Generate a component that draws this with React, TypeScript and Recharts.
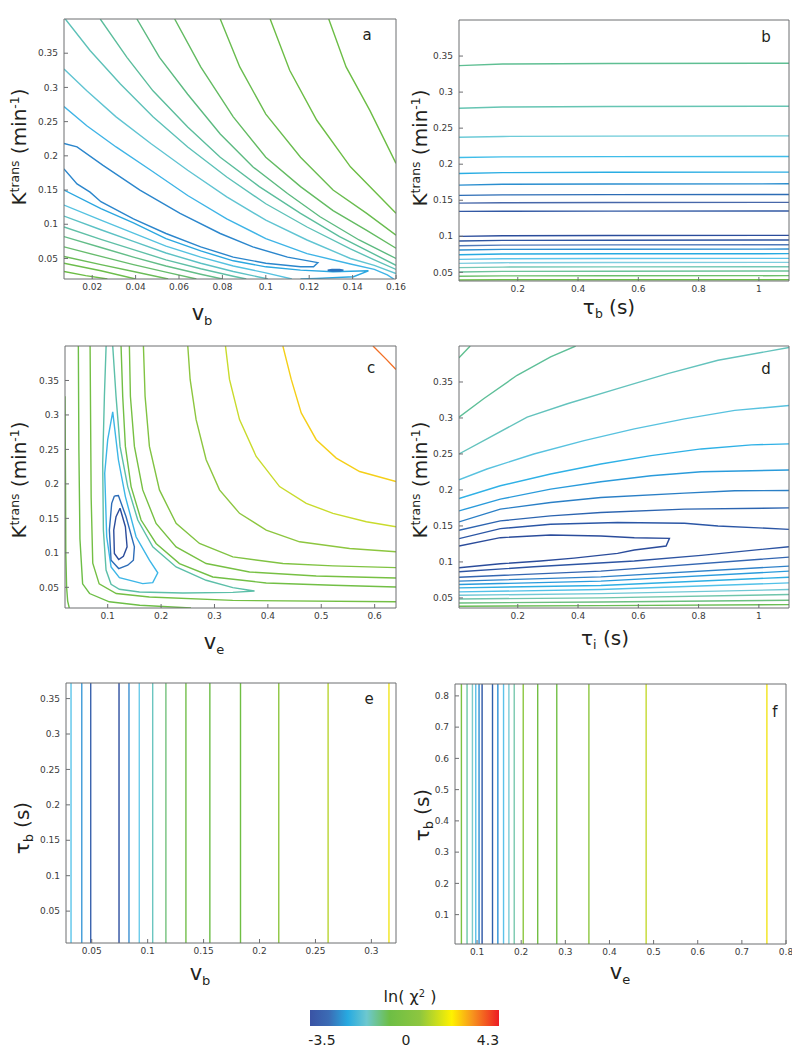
import React from 'react';
import { LineChart, Line, XAxis, YAxis, BarChart, Bar } from 'recharts';

type Pt = [number, number];

// ---------- panel a : v_b (x) vs Ktrans (y) ----------
const aXTicks = [0.02, 0.04, 0.06, 0.08, 0.1, 0.12, 0.14, 0.16];
const aYTicks = [0.05, 0.1, 0.15, 0.2, 0.25, 0.3, 0.35];
const aUpper1: Pt[] = [[0.129, 0.4], [0.137, 0.33], [0.148, 0.266], [0.16, 0.189]];
const aUpper2: Pt[] = [[0.102, 0.4], [0.111, 0.325], [0.1235, 0.252], [0.139, 0.184], [0.16, 0.116]];
const aUpper3: Pt[] = [[0.079, 0.4], [0.088, 0.33], [0.1, 0.261], [0.116, 0.198], [0.131, 0.15], [0.1465, 0.116], [0.16, 0.084]];
const aUpper4: Pt[] = [[0.058, 0.4], [0.07, 0.33], [0.085, 0.257], [0.1, 0.198], [0.116, 0.155], [0.131, 0.12], [0.1465, 0.091], [0.16, 0.065]];
const aUpper5: Pt[] = [[0.0406, 0.4], [0.051, 0.344], [0.064, 0.29], [0.079, 0.232], [0.094, 0.184], [0.11, 0.145], [0.125, 0.111], [0.143, 0.077], [0.16, 0.05]];
const aUpper6: Pt[] = [[0.0237, 0.4], [0.036, 0.344], [0.048, 0.295], [0.064, 0.242], [0.079, 0.198], [0.097, 0.155], [0.116, 0.116], [0.134, 0.082], [0.16, 0.04]];
const aUpper7: Pt[] = [[0.0076, 0.4], [0.019, 0.354], [0.033, 0.305], [0.048, 0.257], [0.064, 0.213], [0.082, 0.169], [0.1, 0.13], [0.119, 0.096], [0.139, 0.064], [0.15, 0.048], [0.16, 0.034]];
const aUpper8: Pt[] = [[0.007, 0.327], [0.0175, 0.295], [0.031, 0.257], [0.047, 0.218], [0.064, 0.179], [0.082, 0.14], [0.1, 0.106], [0.119, 0.077], [0.139, 0.05], [0.15, 0.04], [0.16, 0.028]];
const aUpper9: Pt[] = [[0.007, 0.272], [0.0175, 0.244], [0.031, 0.213], [0.047, 0.179], [0.064, 0.142], [0.082, 0.108], [0.1, 0.079], [0.119, 0.057], [0.139, 0.042], [0.15, 0.034], [0.156, 0.026], [0.159, 0.02]];
const aValley1: Pt[] = [[0.007, 0.218], [0.013, 0.213], [0.025, 0.186], [0.042, 0.15], [0.0605, 0.116], [0.079, 0.0865], [0.094, 0.067], [0.11, 0.052], [0.124, 0.044], [0.122, 0.038], [0.116, 0.038], [0.1, 0.043], [0.085, 0.052], [0.07, 0.067], [0.054, 0.0865], [0.039, 0.108], [0.024, 0.133], [0.019, 0.147], [0.013, 0.159], [0.007, 0.181]];
const aValley2: Pt[] = [[0.007, 0.15], [0.024, 0.123], [0.039, 0.102], [0.054, 0.079], [0.07, 0.061], [0.085, 0.0466], [0.1, 0.0378], [0.116, 0.033], [0.131, 0.0306], [0.1473, 0.032], [0.1404, 0.0233], [0.1235, 0.0208], [0.116, 0.02]];
const aMinimum: Pt[] = [[0.1285, 0.0328], [0.1305, 0.0338], [0.134, 0.034], [0.1358, 0.0329], [0.134, 0.0318], [0.1305, 0.0317], [0.1285, 0.0328]];
const aLower1: Pt[] = [[0.007, 0.128], [0.024, 0.106], [0.039, 0.087], [0.054, 0.068], [0.07, 0.052], [0.085, 0.039], [0.1, 0.029], [0.112, 0.02]];
const aLower2: Pt[] = [[0.007, 0.112], [0.024, 0.092], [0.039, 0.075], [0.054, 0.058], [0.07, 0.043], [0.085, 0.031], [0.101, 0.02]];
const aLower3: Pt[] = [[0.007, 0.096], [0.024, 0.078], [0.039, 0.063], [0.054, 0.048], [0.07, 0.035], [0.085, 0.024], [0.091, 0.02]];
const aLower4: Pt[] = [[0.007, 0.082], [0.024, 0.066], [0.039, 0.052], [0.054, 0.039], [0.07, 0.027], [0.08, 0.02]];
const aLower5: Pt[] = [[0.007, 0.067], [0.024, 0.053], [0.039, 0.041], [0.054, 0.03], [0.068, 0.02]];
const aLower6: Pt[] = [[0.007, 0.053], [0.024, 0.041], [0.039, 0.031], [0.055, 0.02]];
const aLower7: Pt[] = [[0.007, 0.043], [0.024, 0.032], [0.04, 0.02]];
const aLower8: Pt[] = [[0.007, 0.031], [0.017, 0.025], [0.027, 0.02]];

// ---------- panel b : tau_b (x) vs Ktrans (y), nearly flat levels ----------
const bXTicks = [0.2, 0.4, 0.6, 0.8, 1];
const bYTicks = [0.05, 0.1, 0.15, 0.2, 0.25, 0.3, 0.35];
const bX = [0.005, 0.15, 0.5, 1.1];
const bYAtStart = [0.3367, 0.2776, 0.2374, 0.2093, 0.1871, 0.171, 0.1567, 0.146, 0.1345, 0.0999, 0.0934, 0.0869, 0.0809, 0.0745, 0.068, 0.0625, 0.0565, 0.0505, 0.0445, 0.0394];
const bYAtNear = [0.339, 0.2793, 0.2385, 0.2102, 0.1883, 0.1721, 0.1575, 0.1466, 0.1348, 0.1008, 0.0943, 0.0878, 0.0818, 0.0754, 0.0689, 0.0634, 0.0573, 0.0513, 0.0451, 0.0397];
const bYAtMid = [0.3397, 0.28, 0.239, 0.2105, 0.1888, 0.1726, 0.1578, 0.1469, 0.1349, 0.1011, 0.0946, 0.0881, 0.0821, 0.0757, 0.0692, 0.0637, 0.0576, 0.0516, 0.0453, 0.0398];
const bYAtEnd = [0.34, 0.2804, 0.2393, 0.2107, 0.189, 0.1728, 0.158, 0.147, 0.135, 0.1013, 0.0948, 0.0883, 0.0823, 0.0759, 0.0694, 0.0639, 0.0578, 0.0518, 0.0454, 0.0398];

// ---------- panel c : v_e (x) vs Ktrans (y) ----------
const cXTicks = [0.1, 0.2, 0.3, 0.4, 0.5, 0.6];
const cYTicks = [0.05, 0.1, 0.15, 0.2, 0.25, 0.3, 0.35];
const cEdge: Pt[] = [[0.02, 0.327], [0.021, 0.2], [0.0215, 0.1], [0.023, 0.05], [0.025, 0.03], [0.028, 0.02]];
const cLeft1: Pt[] = [[0.045, 0.4], [0.046, 0.25], [0.048, 0.12], [0.053, 0.055], [0.066, 0.041], [0.103, 0.029], [0.16, 0.024], [0.256, 0.02]];
const cLeft2: Pt[] = [[0.067, 0.4], [0.069, 0.18], [0.072, 0.085], [0.084, 0.055], [0.116, 0.041], [0.178, 0.036], [0.334, 0.031], [0.64, 0.029]];
const cTeal: Pt[] = [[0.097, 0.4], [0.0938, 0.327], [0.0906, 0.23], [0.0919, 0.133], [0.0969, 0.075], [0.1063, 0.0544], [0.1219, 0.0471], [0.1594, 0.0432], [0.2406, 0.0417], [0.3344, 0.0427], [0.375, 0.0447], [0.3344, 0.0495], [0.2844, 0.0602], [0.2281, 0.0796], [0.1844, 0.1087], [0.1563, 0.1476], [0.1375, 0.1961], [0.1231, 0.2544], [0.1156, 0.327], [0.1094, 0.4]];
const cLoop1: Pt[] = [[0.1094, 0.3044], [0.12, 0.235], [0.1331, 0.1816], [0.1531, 0.1233], [0.1781, 0.0893], [0.1938, 0.0709], [0.1844, 0.0568], [0.1656, 0.0553], [0.1219, 0.0641], [0.1063, 0.0796], [0.0981, 0.1233], [0.0944, 0.2155], [0.1, 0.2641], [0.1094, 0.3044]];
const cLoop2: Pt[] = [[0.1125, 0.1825], [0.12, 0.183], [0.1344, 0.1524], [0.15, 0.1087], [0.1481, 0.0893], [0.1375, 0.082], [0.1206, 0.0772], [0.1063, 0.0893], [0.1031, 0.133], [0.1075, 0.1718], [0.1125, 0.1825]];
const cLoop3: Pt[] = [[0.1231, 0.1646], [0.1331, 0.1379], [0.1363, 0.1087], [0.1294, 0.0951], [0.1206, 0.0903], [0.1125, 0.099], [0.1113, 0.133], [0.1156, 0.1524], [0.1231, 0.1646]];
const cOuter1: Pt[] = [[0.125, 0.4], [0.1281, 0.327], [0.1331, 0.2544], [0.1438, 0.1961], [0.1625, 0.1476], [0.1906, 0.1136], [0.2344, 0.0845], [0.2969, 0.065], [0.3969, 0.0563], [0.5219, 0.0529], [0.64, 0.0505]];
const cOuter2: Pt[] = [[0.1406, 0.4], [0.1425, 0.327], [0.15, 0.2544], [0.1656, 0.1913], [0.1906, 0.1427], [0.2281, 0.1087], [0.2844, 0.0845], [0.3656, 0.0723], [0.4906, 0.0665], [0.64, 0.0636]];
const cOuter3: Pt[] = [[0.1669, 0.4], [0.17, 0.327], [0.1781, 0.2544], [0.1969, 0.1913], [0.2281, 0.1427], [0.2719, 0.1136], [0.3344, 0.0942], [0.4281, 0.0845], [0.5219, 0.0811], [0.64, 0.0786]];
const cOuter4: Pt[] = [[0.25, 0.4], [0.2544, 0.3515], [0.2656, 0.2932], [0.2844, 0.235], [0.3094, 0.1913], [0.3469, 0.1573], [0.3969, 0.133], [0.4594, 0.116], [0.5531, 0.1063], [0.64, 0.1015]];
const cOuter5: Pt[] = [[0.3206, 0.4], [0.3281, 0.3515], [0.3469, 0.2932], [0.3781, 0.2398], [0.4219, 0.1961], [0.4719, 0.1718], [0.5219, 0.1573], [0.5844, 0.1451], [0.64, 0.1379]];
const cOuter6: Pt[] = [[0.4281, 0.4], [0.4438, 0.3515], [0.4625, 0.3029], [0.4906, 0.2641], [0.5281, 0.2374], [0.5719, 0.218], [0.64, 0.2034]];
const cCorner: Pt[] = [[0.5969, 0.4], [0.6219, 0.3806], [0.64, 0.366]];

// ---------- panel d : tau_i (x) vs Ktrans (y) ----------
const dXTicks = [0.2, 0.4, 0.6, 0.8, 1];
const dYTicks = [0.05, 0.1, 0.15, 0.2, 0.25, 0.3, 0.35];
const d1: Pt[] = [[0.005, 0.3835], [0.0422, 0.4]];
const d2: Pt[] = [[0.005, 0.3012], [0.0867, 0.3267], [0.1978, 0.3593], [0.3089, 0.3849], [0.3922, 0.4]];
const d3: Pt[] = [[0.005, 0.25], [0.0978, 0.2709], [0.2311, 0.3012], [0.3644, 0.3198], [0.5311, 0.3407], [0.6978, 0.3616], [0.8644, 0.3802], [1.1, 0.3979]];
const d4: Pt[] = [[0.005, 0.2142], [0.0978, 0.2291], [0.2533, 0.25], [0.42, 0.2686], [0.5867, 0.2849], [0.7533, 0.2988], [0.92, 0.3105], [1.1, 0.3174]];
const d5: Pt[] = [[0.005, 0.1881], [0.1422, 0.2058], [0.3089, 0.2221], [0.4756, 0.236], [0.6422, 0.2477], [0.8089, 0.257], [0.9756, 0.2626], [1.1, 0.264]];
const d6: Pt[] = [[0.005, 0.1709], [0.1422, 0.1872], [0.3089, 0.2012], [0.4756, 0.2114], [0.6422, 0.2198], [0.8089, 0.2253], [1.1, 0.2277]];
const d7: Pt[] = [[0.005, 0.1556], [0.1422, 0.1733], [0.3089, 0.1826], [0.4756, 0.1895], [0.7533, 0.1956], [0.92, 0.1988], [1.1, 0.1993]];
const d8: Pt[] = [[0.005, 0.144], [0.1422, 0.157], [0.3089, 0.164], [0.4756, 0.1686], [0.7533, 0.1733], [1.1, 0.1751]];
const d9: Pt[] = [[0.005, 0.1323], [0.1422, 0.1463], [0.3089, 0.1523], [0.5311, 0.1547], [0.7533, 0.1537], [0.8644, 0.15], [1.1, 0.1453]];
const d10: Pt[] = [[0.005, 0.1221], [0.1422, 0.1337], [0.3089, 0.1374], [0.4756, 0.136], [0.5867, 0.1337], [0.7033, 0.1328], [0.6922, 0.1221], [0.5867, 0.1165], [0.5311, 0.1119], [0.3867, 0.1053], [0.2756, 0.1012], [0.1422, 0.0974], [0.005, 0.0919]];
const d11: Pt[] = [[0.005, 0.0863], [0.2533, 0.0933], [0.5867, 0.1012], [0.8089, 0.1091], [1.1, 0.1212]];
const d12: Pt[] = [[0.005, 0.0788], [0.4756, 0.0872], [1.1, 0.1067]];
const d13: Pt[] = [[0.005, 0.0733], [0.4756, 0.0793], [1.1, 0.0942]];
const d14: Pt[] = [[0.005, 0.0686], [0.4756, 0.0733], [1.1, 0.0872]];
const d15: Pt[] = [[0.005, 0.064], [0.4756, 0.0672], [1.1, 0.0788]];
const d16: Pt[] = [[0.005, 0.0584], [0.4756, 0.0616], [1.1, 0.0709]];
const d17: Pt[] = [[0.005, 0.0537], [0.4756, 0.056], [1.1, 0.0616]];
const d18: Pt[] = [[0.005, 0.0486], [0.4756, 0.05], [1.1, 0.0547]];
const d19: Pt[] = [[0.005, 0.043], [0.4756, 0.0444], [1.1, 0.0467]];
const d20: Pt[] = [[0.005, 0.0384], [0.4756, 0.0393], [1.1, 0.0407]];

// ---------- panel e : v_b (x) vs tau_b (y), vertical levels ----------
const eXTicks = [0.05, 0.1, 0.15, 0.2, 0.25, 0.3];
const eYTicks = [0.05, 0.1, 0.15, 0.2, 0.25, 0.3, 0.35];
const eLevelX = [0.0315, 0.0411, 0.0491, 0.0744, 0.0833, 0.0925, 0.1045, 0.1163, 0.1342, 0.1556, 0.183, 0.2172, 0.2613, 0.3157];

// ---------- panel f : v_e (x) vs tau_b (y), vertical levels ----------
const fXTicks = [0.1, 0.2, 0.3, 0.4, 0.5, 0.6, 0.7, 0.8];
const fYTicks = [0.1, 0.2, 0.3, 0.4, 0.5, 0.6, 0.7, 0.8];
const fLevelX = [0.0645, 0.0773, 0.0895, 0.097, 0.1045, 0.1114, 0.135, 0.1471, 0.16, 0.1721, 0.1842, 0.2046, 0.2374, 0.2806, 0.3534, 0.4831, 0.7567];

// ---------- colour bar ----------
const cbRange: [number, number] = [-3.5, 4.3];
const cbLabels = ['-3.5', '0', '4.3'];

// colours
const aColors = ['#6cbd45', '#6cbd45', '#69bc4f', '#63bb62', '#5cba80', '#5bbd9c', '#5dc1b8', '#60c4d2', '#3fb4e6', '#2b86cc', '#2ba7e0', '#2c74c0', '#55c2e0', '#5cc1c4', '#5fbfa6', '#63bd88', '#67bc6d', '#6abc57', '#6cbd4b', '#6cbd45'];
const bColors = ['#5fbf93', '#66c5b3', '#6dcbd8', '#3fbde9', '#29ade3', '#2a8ecf', '#2c6cb5', '#4767a9', '#3359a4', '#2b4c9b', '#2f55a1', '#5079b9', '#2f8fd0', '#27aae1', '#5cc4ea', '#7fcde0', '#73c7b5', '#6ec39a', '#6cbe6a', '#6cbd45'];
const cColors = ['#6cbd45', '#6dbe46', '#74bf44', '#5cbfa9', '#3cb6e7', '#2d6db8', '#2b4c9b', '#72bf45', '#77c043', '#80c342', '#8dc63f', '#c9db2c', '#f5cf18', '#f26f25'];
const dColors = ['#5fbf8f', '#5ebf98', '#64c3bd', '#58c2df', '#2fb1e6', '#2a9bdb', '#2a7fc6', '#2c64b0', '#2b56a5', '#2b4c9b', '#2d54a2', '#3466b1', '#2f82c9', '#2a9bdc', '#2eaee3', '#52c1e8', '#70c8d5', '#6fc5ab', '#6cc080', '#6bbd55'];
const eColors = ['#5bc5ea', '#3d9ad8', '#3a62ad', '#2d4e9f', '#3b8fd2', '#6ccbeb', '#6bc5c0', '#74c17c', '#72be4a', '#6bbd45', '#6fbe44', '#8dc63f', '#b9d532', '#f1e51d'];
const fColors = ['#7cc242', '#6cc6a8', '#7dcbc8', '#5bc0e8', '#2f8fd4', '#2b55a4', '#2e5fab', '#2a90d6', '#5bc2ea', '#7ccbd4', '#79c8ae', '#8cc63f', '#72bf44', '#72bf44', '#8cc63f', '#c4d930', '#f2e41b'];

interface Curve { pts: Pt[]; color: string }
interface PanelSpec {
  left: number; top: number; w: number; h: number;
  xDomain: [number, number]; yDomain: [number, number];
  xTicks: number[]; yTicks: number[];
  curves: Curve[];
}

const withColors = (list: Pt[][], colors: string[]): Curve[] =>
  list.map((pts, i) => ({ pts, color: colors[i] }));

const panels: PanelSpec[] = [
  {
    left: 64, top: 19, w: 332, h: 260, xDomain: [0.007, 0.16], yDomain: [0.02, 0.4],
    xTicks: aXTicks, yTicks: aYTicks,
    curves: withColors([aUpper1, aUpper2, aUpper3, aUpper4, aUpper5, aUpper6, aUpper7, aUpper8, aUpper9, aValley1, aValley2, aMinimum,
      aLower1, aLower2, aLower3, aLower4, aLower5, aLower6, aLower7, aLower8], aColors),
  },
  {
    left: 459, top: 20, w: 330, h: 261, xDomain: [0.005, 1.1], yDomain: [0.038, 0.4],
    xTicks: bXTicks, yTicks: bYTicks,
    curves: withColors(bYAtStart.map((_, i) => bX.map((x, k) => [x, [bYAtStart, bYAtNear, bYAtMid, bYAtEnd][k][i]] as Pt)), bColors),
  },
  {
    left: 65, top: 346, w: 331, h: 262, xDomain: [0.02, 0.64], yDomain: [0.02, 0.4],
    xTicks: cXTicks, yTicks: cYTicks,
    curves: withColors([cEdge, cLeft1, cLeft2, cTeal, cLoop1, cLoop2, cLoop3, cOuter1, cOuter2, cOuter3, cOuter4, cOuter5, cOuter6, cCorner], cColors),
  },
  {
    left: 459, top: 346, w: 330, h: 262, xDomain: [0.005, 1.1], yDomain: [0.036, 0.4],
    xTicks: dXTicks, yTicks: dYTicks,
    curves: withColors([d1, d2, d3, d4, d5, d6, d7, d8, d9, d10, d11, d12, d13, d14, d15, d16, d17, d18, d19, d20], dColors),
  },
  {
    left: 66, top: 683, w: 330, h: 260, xDomain: [0.027, 0.322], yDomain: [0.005, 0.372],
    xTicks: eXTicks, yTicks: eYTicks,
    curves: withColors(eLevelX.map((x) => [[x, 0.005], [x, 0.372]] as Pt[]), eColors),
  },
  {
    left: 455, top: 684, w: 331, h: 260, xDomain: [0.05, 0.8], yDomain: [0.006, 0.838],
    xTicks: fXTicks, yTicks: fYTicks,
    curves: withColors(fLevelX.map((x) => [[x, 0.006], [x, 0.838]] as Pt[]), fColors),
  },
];

const axisColor = '#6d6e71';
const tickFont = { fill: '#3a3a3a', fontSize: 9, fontFamily: 'DejaVu Sans' };

const Panel = ({ spec }: { spec: PanelSpec }) => (
  <div style={{ position: 'absolute', left: spec.left - 60, top: spec.top - 10 }}>
    <LineChart width={spec.w + 70} height={spec.h + 40} margin={{ top: 9, right: 9, bottom: 0, left: 0 }}>
      <XAxis xAxisId="b" type="number" dataKey="x" domain={spec.xDomain} ticks={spec.xTicks} interval={0}
        allowDataOverflow height={30} stroke={axisColor} tickSize={-4} tickMargin={9} tick={tickFont} />
      <XAxis xAxisId="t" orientation="top" type="number" dataKey="x" domain={spec.xDomain} ticks={spec.xTicks} interval={0}
        allowDataOverflow height={1} stroke={axisColor} tickSize={-4} tick={false} />
      <YAxis yAxisId="l" type="number" dataKey="y" domain={spec.yDomain} ticks={spec.yTicks} interval={0}
        allowDataOverflow width={60} stroke={axisColor} tickSize={-4} tickMargin={10} tick={tickFont} />
      <YAxis yAxisId="r" orientation="right" type="number" dataKey="y" domain={spec.yDomain} ticks={spec.yTicks} interval={0}
        allowDataOverflow width={1} stroke={axisColor} tickSize={-4} tick={false} />
      {spec.curves.map((c, i) => (
        <Line key={i} xAxisId="b" yAxisId="l" data={c.pts.map(([x, y]) => ({ x, y }))} dataKey="y" type="linear"
          stroke={c.color} strokeWidth={1.4} dot={false} activeDot={false} isAnimationActive={false} />
      ))}
    </LineChart>
  </div>
);

const Txt = ({ x, y, size, rotate, children }: { x: number; y: number; size: number; rotate?: boolean; children: React.ReactNode }) => (
  <div style={{
    position: 'absolute', left: x, top: y, fontSize: size, fontFamily: 'DejaVu Sans', color: '#231f20',
    whiteSpace: 'nowrap', lineHeight: 1,
    transform: `translate(-50%, -50%)${rotate ? ' rotate(-90deg)' : ''}`,
  }}>{children}</div>
);

const sup = { fontSize: '0.62em', verticalAlign: '0.6em' };
const sub = { fontSize: '0.62em', verticalAlign: '-0.35em' };

const Ktrans = () => (<>K<span style={sup}>trans</span> (min<span style={sup}>-1</span>)</>);

export default function App() {
  return (
    <div style={{ position: 'absolute', left: 0, top: 0, width: 792, height: 1050, background: '#fff', overflow: 'hidden' }}>
      {panels.map((p, i) => <Panel key={i} spec={p} />)}

      <Txt x={19} y={147} size={20} rotate><Ktrans /></Txt>
      <Txt x={420} y={148} size={20} rotate><Ktrans /></Txt>
      <Txt x={19} y={480} size={20} rotate><Ktrans /></Txt>
      <Txt x={420} y={480} size={20} rotate><Ktrans /></Txt>
      <Txt x={24} y={828} size={20} rotate>τ<span style={sub}>b</span> (s)</Txt>
      <Txt x={424} y={815} size={20} rotate>τ<span style={sub}>b</span> (s)</Txt>

      <Txt x={202} y={315} size={21}>v<span style={sub}>b</span></Txt>
      <Txt x={609} y={309} size={20}>τ<span style={sub}>b</span> (s)</Txt>
      <Txt x={214} y={644} size={21}>v<span style={sub}>e</span></Txt>
      <Txt x={605} y={640} size={20}>τ<span style={sub}>i</span> (s)</Txt>
      <Txt x={200} y={975} size={21}>v<span style={sub}>b</span></Txt>
      <Txt x={620} y={974} size={21}>v<span style={sub}>e</span></Txt>

      <Txt x={367} y={35} size={15}>a</Txt>
      <Txt x={766} y={37} size={15}>b</Txt>
      <Txt x={371} y={368} size={15}>c</Txt>
      <Txt x={766} y={369} size={15}>d</Txt>
      <Txt x={369} y={699} size={15}>e</Txt>
      <Txt x={775} y={712} size={15}>f</Txt>

      <Txt x={410} y={997} size={16}>ln( χ<span style={sup}>2</span> )</Txt>
      <div style={{ position: 'absolute', left: 310, top: 1010 }}>
        <BarChart width={189} height={16} layout="vertical" data={[{ name: 'scale', range: cbRange }]}
          margin={{ top: 0, right: 0, bottom: 0, left: 0 }} barCategoryGap={0}>
          <defs>
            <linearGradient id="cbGrad" x1="0" y1="0" x2="1" y2="0">
              <stop offset="0%" stopColor="#3a53a4" />
              <stop offset="10%" stopColor="#3b6cb5" />
              <stop offset="20%" stopColor="#27aae1" />
              <stop offset="30%" stopColor="#6dc8cf" />
              <stop offset="42%" stopColor="#6dbe45" />
              <stop offset="58%" stopColor="#8dc63f" />
              <stop offset="75%" stopColor="#fff200" />
              <stop offset="86%" stopColor="#f7941d" />
              <stop offset="100%" stopColor="#ed1c24" />
            </linearGradient>
          </defs>
          <XAxis type="number" domain={cbRange} hide />
          <YAxis type="category" dataKey="name" hide />
          <Bar dataKey="range" fill="url(#cbGrad)" isAnimationActive={false} />
        </BarChart>
      </div>
      <Txt x={322} y={1040} size={14}>{cbLabels[0]}</Txt>
      <Txt x={406} y={1040} size={14}>{cbLabels[1]}</Txt>
      <Txt x={488} y={1040} size={14}>{cbLabels[2]}</Txt>
    </div>
  );
}
